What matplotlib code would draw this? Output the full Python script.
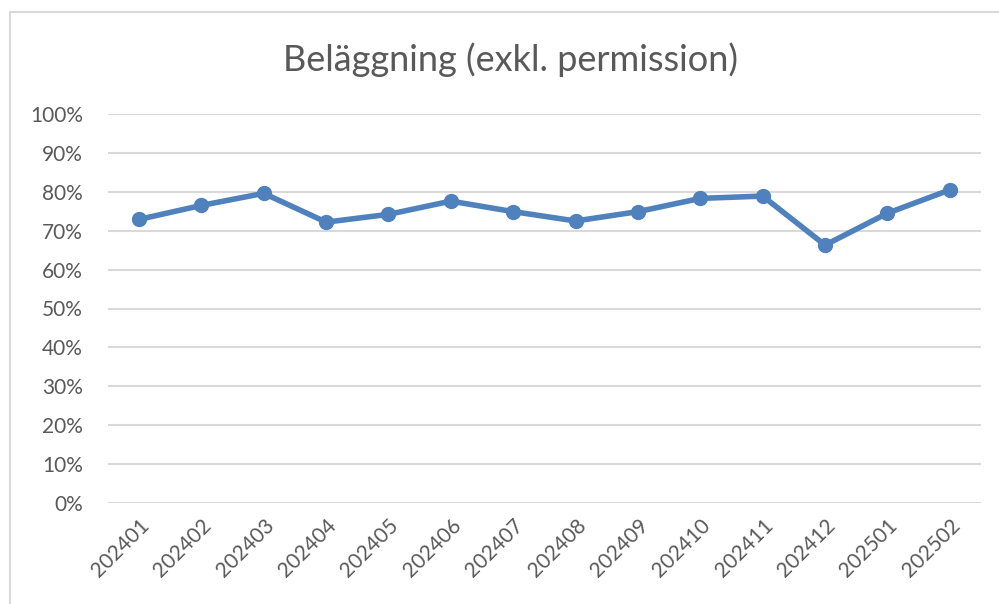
import matplotlib
matplotlib.use("Agg")
import matplotlib.pyplot as plt
from matplotlib.patches import Rectangle
from matplotlib.ticker import PercentFormatter

categories = ["202401", "202402", "202403", "202404", "202405", "202406", "202407",
              "202408", "202409", "202410", "202411", "202412", "202501", "202502"]
values = [0.729, 0.765, 0.796, 0.722, 0.742, 0.776, 0.749,
          0.725, 0.749, 0.783, 0.789, 0.663, 0.745, 0.805]
title = "Beläggning (exkl. permission)"

plt.rcParams['font.family'] = ['Lato', 'DejaVu Sans']

W, H = 999, 604
fig = plt.figure(figsize=(W / 100, H / 100), dpi=100)
fig.patch.set_facecolor("white")

# chart border
fig.add_artist(Rectangle((10 / W, -0.05), 1.2, 1 - 12 / H + 0.05,
                         transform=fig.transFigure, fill=False,
                         edgecolor="#D9D9D9", linewidth=1.5))

ax = fig.add_axes([107.8 / W, 1 - 503 / H, (981 - 107.8) / W, (503 - 114) / H])
x = list(range(len(categories)))
ax.plot(x, values, color="#4F81BD", linewidth=4.0, marker="o", markersize=10,
        solid_capstyle="round", solid_joinstyle="round", zorder=3)

ax.set_xlim(-0.5, len(categories) - 0.5)
ax.set_ylim(0, 1)
ax.set_yticks([i / 10 for i in range(11)])
ax.yaxis.set_major_formatter(PercentFormatter(1.0, decimals=0))
ax.set_xticks(x)
ax.set_xticklabels(categories, rotation=45, ha="right", va="top",
                   rotation_mode="anchor")
ax.tick_params(axis="both", length=0, labelsize=15, colors="#595959")
ax.tick_params(axis="x", pad=9)
ax.tick_params(axis="y", pad=18)
for lab in ax.get_yticklabels():
    lab.set_horizontalalignment("right")
ax.grid(axis="y", color="#D9D9D9", linewidth=1.5)
ax.set_axisbelow(True)
for s in ax.spines.values():
    s.set_visible(False)

fig.text(510 / W, 1 - 60 / H, title, ha="center", va="center",
         fontsize=26, color="#595959")

fig.savefig("out.png", dpi=100, facecolor="white")
